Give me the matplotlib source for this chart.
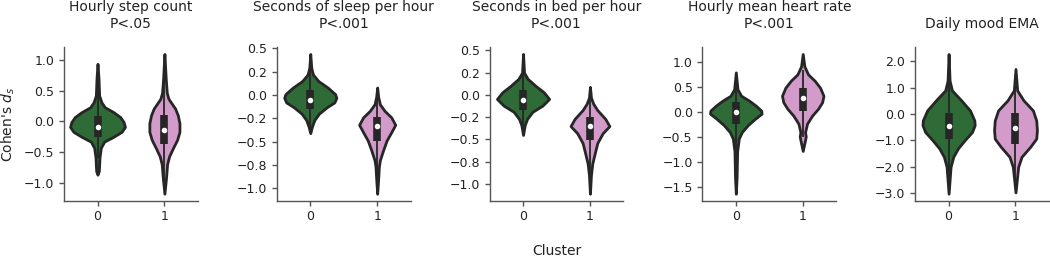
import numpy as np
import matplotlib
matplotlib.use("Agg")
import matplotlib.pyplot as plt
from matplotlib.ticker import StrMethodFormatter

# ---------------- data ----------------
titles = ["Hourly step count\nP<.05", "Seconds of sleep per hour\nP<.001",
          "Seconds in bed per hour\nP<.001", "Hourly mean heart rate\nP<.001",
          "Daily mood EMA"]
clusters = [0, 1]
tick_sets = [
    [-1.0, -0.5, 0.0, 0.5, 1.0],
    [-1.0, -0.75, -0.5, -0.25, 0.0, 0.25, 0.5],
    [-1.0, -0.75, -0.5, -0.25, 0.0, 0.25, 0.5],
    [-1.5, -1.0, -0.5, 0.0, 0.5, 1.0],
    [-3.0, -2.0, -1.0, 0.0, 1.0, 2.0],
]

# violin outline: y positions and half-widths (cluster 0 / cluster 1)
p1_y0 = [0.94, 0.70, 0.42, 0.31, 0.23, 0.15, 0.07, -0.01, -0.09, -0.17, -0.25, -0.33, -0.43, -0.59, -0.81, -0.87]
p1_w0 = [0.0, 0.015, 0.025, 0.06, 0.11, 0.24, 0.34, 0.39, 0.41, 0.36, 0.24, 0.10, 0.05, 0.03, 0.02, 0.0]
p1_y1 = [1.10, 0.69, 0.47, 0.37, 0.29, 0.21, 0.10, -0.03, -0.17, -0.30, -0.43, -0.57, -0.70, -0.91, -1.18]
p1_w1 = [0.0, 0.02, 0.035, 0.06, 0.11, 0.16, 0.20, 0.225, 0.225, 0.19, 0.13, 0.07, 0.04, 0.025, 0.0]

p2_y0 = [0.44, 0.29, 0.22, 0.15, 0.08, 0.01, -0.03, -0.08, -0.13, -0.20, -0.27, -0.34, -0.41]
p2_w0 = [0.0, 0.015, 0.04, 0.12, 0.26, 0.37, 0.39, 0.36, 0.25, 0.13, 0.06, 0.025, 0.0]
p2_y1 = [0.08, -0.02, -0.10, -0.17, -0.24, -0.32, -0.40, -0.49, -0.59, -0.70, -0.77, -0.90, -1.06]
p2_w1 = [0.0, 0.015, 0.04, 0.11, 0.21, 0.27, 0.21, 0.14, 0.09, 0.04, 0.025, 0.015, 0.0]

p3_y0 = [0.46, 0.25, 0.18, 0.10, 0.03, -0.045, -0.12, -0.19, -0.27, -0.34, -0.45]
p3_w0 = [0.0, 0.015, 0.07, 0.19, 0.31, 0.39, 0.29, 0.14, 0.06, 0.025, 0.0]
p3_y1 = [0.09, -0.03, -0.10, -0.17, -0.27, -0.35, -0.43, -0.54, -0.66, -0.77, -0.90, -1.11]
p3_w1 = [0.0, 0.015, 0.05, 0.11, 0.23, 0.29, 0.19, 0.11, 0.07, 0.035, 0.015, 0.0]

p4_y0 = [0.80, 0.46, 0.33, 0.23, 0.13, 0.03, -0.03, -0.13, -0.26, -0.40, -0.53, -0.79, -1.32, -1.64]
p4_w0 = [0.0, 0.025, 0.08, 0.20, 0.30, 0.38, 0.385, 0.29, 0.18, 0.09, 0.045, 0.02, 0.012, 0.0]
p4_y1 = [1.17, 0.92, 0.76, 0.63, 0.49, 0.33, 0.20, 0.07, -0.07, -0.23, -0.40, -0.49, -0.59, -0.78]
p4_w1 = [0.0, 0.025, 0.08, 0.18, 0.26, 0.31, 0.29, 0.23, 0.14, 0.065, 0.035, 0.045, 0.03, 0.0]

p5_y0 = [2.28, 1.27, 0.90, 0.52, 0.14, -0.24, -0.42, -0.68, -0.99, -1.30, -1.62, -2.00, -3.02]
p5_w0 = [0.0, 0.015, 0.05, 0.19, 0.32, 0.385, 0.39, 0.35, 0.24, 0.14, 0.07, 0.03, 0.0]
p5_y1 = [1.71, 0.90, 0.52, 0.14, -0.24, -0.61, -0.93, -1.24, -1.62, -2.00, -2.97]
p5_w1 = [0.0, 0.025, 0.12, 0.26, 0.31, 0.32, 0.31, 0.22, 0.09, 0.04, 0.0]

# box stats per panel: [cluster0, cluster1]
q1_vals = [[-0.25, -0.37], [-0.15, -0.49], [-0.17, -0.51], [-0.23, 0.02], [-0.95, -1.15]]
q3_vals = [[0.09, 0.11], [0.05, -0.24], [0.05, -0.25], [0.21, 0.49], [0.05, 0.05]]
medians = [[-0.09, -0.14], [-0.05, -0.33], [-0.06, -0.35], [0.00, 0.28], [-0.44, -0.53]]
whisk_lo = [[-0.60, -1.00], [-0.36, -0.85], [-0.38, -0.90], [-0.90, -0.50], [-2.40, -2.50]]
whisk_hi = [[0.55, 0.80], [0.30, -0.02], [0.28, -0.02], [0.55, 0.85], [1.30, 1.20]]

shapes = [
    [(p1_y0, p1_w0), (p1_y1, p1_w1)],
    [(p2_y0, p2_w0), (p2_y1, p2_w1)],
    [(p3_y0, p3_w0), (p3_y1, p3_w1)],
    [(p4_y0, p4_w0), (p4_y1, p4_w1)],
    [(p5_y0, p5_w0), (p5_y1, p5_w1)],
]

colors = ["#2e6b37", "#d39bc9"]
edge = "#262626"

# ---------------- figure ----------------
fig, axes = plt.subplots(1, 5, figsize=(10.5, 2.61), dpi=100)
fig.subplots_adjust(left=0.061, right=0.999, bottom=0.231, top=0.82, wspace=0.59)

for i, ax in enumerate(axes):
    stats = []
    widths = []
    for j in range(2):
        yy, ww = shapes[i][j]
        stats.append(dict(coords=np.array(yy), vals=np.array(ww),
                          mean=medians[i][j], median=medians[i][j],
                          min=min(yy), max=max(yy), quantiles=[]))
        widths.append(2 * max(ww))
    parts = ax.violin(stats, positions=clusters, widths=widths,
                      showmeans=False, showextrema=False, showmedians=False)
    for j, body in enumerate(parts["bodies"]):
        body.set_facecolor(colors[j])
        body.set_edgecolor(edge)
        body.set_linewidth(2.0)
        body.set_alpha(1)
        body.set_joinstyle("round")
        body.set_zorder(1)
    for j, x in enumerate(clusters):
        ax.vlines(x, whisk_lo[i][j], whisk_hi[i][j], color=edge, lw=1.3, zorder=2)
        ax.vlines(x, q1_vals[i][j], q3_vals[i][j], color=edge, lw=5.5, zorder=3)
        ax.scatter([x], [medians[i][j]], s=16, color="white", zorder=4, linewidths=0)
    ax.set_xlim(-0.5, 1.5)
    ax.set_xticks(clusters)
    ax.set_xticklabels([str(c) for c in clusters])
    ax.set_yticks(tick_sets[i])
    ax.yaxis.set_major_formatter(StrMethodFormatter("{x:.1f}"))
    ax.set_title(titles[i], fontsize=10, pad=14, color="#222222")
    for s in ["top", "right"]:
        ax.spines[s].set_visible(False)
    for s in ["left", "bottom"]:
        ax.spines[s].set_color("#555555")
        ax.spines[s].set_linewidth(1.0)
    ax.tick_params(labelsize=9, colors="#555555", labelcolor="#222222", length=3.5, width=1)

axes[0].set_ylabel("Cohen's $d_s$", fontsize=10, labelpad=5, color="#222222")
axes[2].set_xlabel("Cluster", fontsize=10, labelpad=15, color="#222222")

fig.savefig("out.png", dpi=100)
